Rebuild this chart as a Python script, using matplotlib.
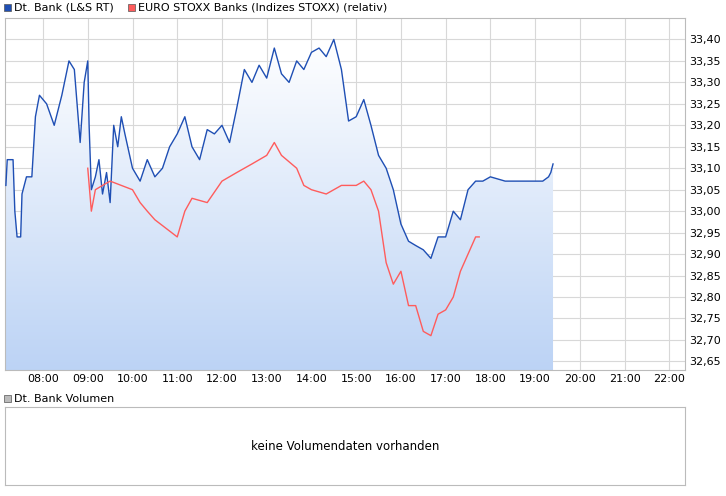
import matplotlib
matplotlib.use("Agg")
import matplotlib.pyplot as plt
import numpy as np
from matplotlib.patches import Polygon, Rectangle

# times in hours, values in EUR
bank_t = [7.17, 7.2, 7.33, 7.37, 7.42, 7.5, 7.53, 7.63, 7.75, 7.83, 7.92, 8.08, 8.25, 8.42,
          8.58, 8.7, 8.83, 8.92, 9.0, 9.03, 9.08, 9.17, 9.25, 9.33, 9.42, 9.5, 9.58, 9.67,
          9.75, 9.83, 10.0, 10.17, 10.33, 10.5, 10.67, 10.83, 11.0, 11.17, 11.33, 11.5,
          11.67, 11.83, 12.0, 12.17, 12.33, 12.5, 12.67, 12.83, 13.0, 13.17, 13.33, 13.5,
          13.67, 13.83, 14.0, 14.17, 14.33, 14.5, 14.67, 14.83, 15.0, 15.17, 15.33, 15.5,
          15.67, 15.83, 16.0, 16.17, 16.33, 16.5, 16.67, 16.83, 17.0, 17.17, 17.33, 17.5,
          17.67, 17.83, 18.0, 18.33, 18.67, 19.0, 19.17, 19.3, 19.35, 19.4]
bank_v = [33.06, 33.12, 33.12, 33.00, 32.94, 32.94, 33.04, 33.08, 33.08, 33.22, 33.27,
          33.25, 33.20, 33.27, 33.35, 33.33, 33.16, 33.30, 33.35, 33.20, 33.05, 33.08,
          33.12, 33.04, 33.09, 33.02, 33.20, 33.15, 33.22, 33.18, 33.10, 33.07, 33.12,
          33.08, 33.10, 33.15, 33.18, 33.22, 33.15, 33.12, 33.19, 33.18, 33.20, 33.16,
          33.24, 33.33, 33.30, 33.34, 33.31, 33.38, 33.32, 33.30, 33.35, 33.33, 33.37,
          33.38, 33.36, 33.40, 33.33, 33.21, 33.22, 33.26, 33.20, 33.13, 33.10, 33.05,
          32.97, 32.93, 32.92, 32.91, 32.89, 32.94, 32.94, 33.00, 32.98, 33.05, 33.07,
          33.07, 33.08, 33.07, 33.07, 33.07, 33.07, 33.08, 33.09, 33.11]

stoxx_t = [9.0, 9.08, 9.17, 9.33, 9.5, 9.75, 10.0, 10.17, 10.33, 10.5, 10.75, 11.0,
           11.17, 11.33, 11.67, 12.0, 12.33, 12.67, 13.0, 13.17, 13.33, 13.67, 13.83,
           14.0, 14.33, 14.67, 15.0, 15.17, 15.33, 15.5, 15.67, 15.83, 16.0, 16.17,
           16.33, 16.5, 16.67, 16.83, 17.0, 17.17, 17.33, 17.5, 17.67, 17.75]
stoxx_v = [33.10, 33.00, 33.05, 33.06, 33.07, 33.06, 33.05, 33.02, 33.00, 32.98, 32.96,
           32.94, 33.00, 33.03, 33.02, 33.07, 33.09, 33.11, 33.13, 33.16, 33.13, 33.10,
           33.06, 33.05, 33.04, 33.06, 33.06, 33.07, 33.05, 33.00, 32.88, 32.83, 32.86,
           32.78, 32.78, 32.72, 32.71, 32.76, 32.77, 32.80, 32.86, 32.90, 32.94, 32.94]

hour_labels = ["08:00", "09:00", "10:00", "11:00", "12:00", "13:00", "14:00", "15:00",
               "16:00", "17:00", "18:00", "19:00", "20:00", "21:00", "22:00"]
y_ticks = [32.65, 32.70, 32.75, 32.80, 32.85, 32.90, 32.95, 33.00, 33.05, 33.10,
           33.15, 33.20, 33.25, 33.30, 33.35, 33.40]

W, H = 726, 496
fig = plt.figure(figsize=(W / 100, H / 100), dpi=100)
plt.rcParams["font.family"] = "DejaVu Sans"

ax = fig.add_axes([5 / W, 1 - 370 / H, 680 / W, 352 / H])
x0, x1 = 7.15, 22.35
y0, y1 = 32.63, 33.45
ax.set_xlim(x0, x1)
ax.set_ylim(y0, y1)

grid_c = "#d8d8d8"
for i in range(len(hour_labels)):
    ax.axvline(8 + i, color=grid_c, lw=0.8, zorder=0)
for yt in y_ticks:
    ax.axhline(yt, color=grid_c, lw=0.8, zorder=0)

# gradient fill under the Dt. Bank line
grad = np.linspace(0, 1, 256).reshape(-1, 1)
cmap = matplotlib.colors.LinearSegmentedColormap.from_list("g", ["#bcd3f5", "#ffffff"])
img = ax.imshow(grad, extent=[bank_t[0], bank_t[-1], y0, max(bank_v)], origin="lower",
                aspect="auto", cmap=cmap, zorder=1)
poly = Polygon(list(zip(bank_t, bank_v)) + [(bank_t[-1], y0), (bank_t[0], y0)],
               closed=True, transform=ax.transData, fc="none", ec="none")
ax.add_patch(poly)
img.set_clip_path(poly)

ax.plot(bank_t, bank_v, color="#1f4fb4", lw=1, zorder=3)
ax.plot(stoxx_t, stoxx_v, color="#ff5c5c", lw=1, zorder=3)

ax.set_xticks([8 + i for i in range(len(hour_labels))])
ax.set_xticklabels(hour_labels, fontsize=8)
ax.set_yticks(y_ticks)
ax.set_yticklabels([f"{v:.2f}".replace(".", ",") for v in y_ticks], fontsize=8)
ax.yaxis.tick_right()
ax.tick_params(length=0, pad=3)
for s in ax.spines.values():
    s.set_color("#bbbbbb")
    s.set_linewidth(0.8)

# legend row
fig.patches.append(Rectangle((4 / W, 1 - 11 / H), 7 / W, 7 / H, transform=fig.transFigure,
                             fc="#1f4fb4", ec="#555555", lw=0.5))
fig.text(14 / W, 1 - 7.5 / H, "Dt. Bank (L&S RT)", fontsize=8, va="center")
fig.patches.append(Rectangle((128 / W, 1 - 11 / H), 7 / W, 7 / H, transform=fig.transFigure,
                             fc="#ff5c5c", ec="#555555", lw=0.5))
fig.text(138 / W, 1 - 7.5 / H, "EURO STOXX Banks (Indizes STOXX) (relativ)", fontsize=8, va="center")

# volume panel
fig.patches.append(Rectangle((4 / W, 1 - 402 / H), 7 / W, 7 / H, transform=fig.transFigure,
                             fc="#bbbbbb", ec="#555555", lw=0.5))
fig.text(14 / W, 1 - 398.5 / H, "Dt. Bank Volumen", fontsize=8, va="center")
vax = fig.add_axes([5 / W, 1 - 485 / H, 680 / W, 78 / H])
vax.set_xticks([])
vax.set_yticks([])
for s in vax.spines.values():
    s.set_color("#bbbbbb")
    s.set_linewidth(0.8)
vax.text(0.5, 0.5, "keine Volumendaten vorhanden", ha="center", va="center",
         fontsize=8.5, transform=vax.transAxes)

fig.savefig("out.png", dpi=100)
